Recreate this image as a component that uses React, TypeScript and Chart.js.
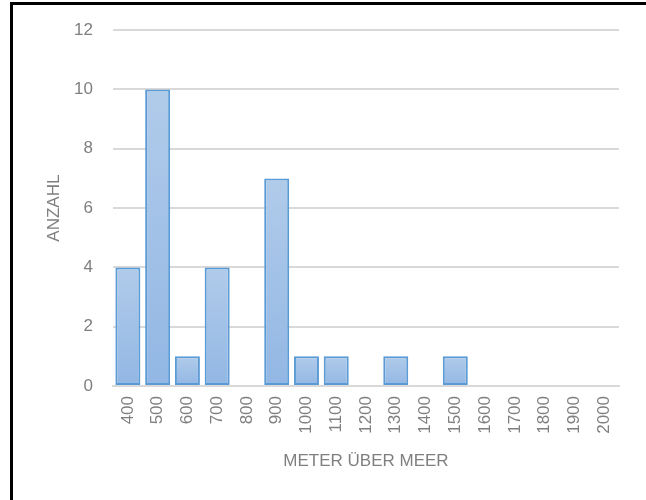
import React, { useEffect, useRef } from "react";
import { Chart, registerables } from "chart.js";

Chart.register(...registerables);

const categories = ["400", "500", "600", "700", "800", "900", "1000", "1100", "1200", "1300", "1400", "1500", "1600", "1700", "1800", "1900", "2000"];
const counts = [4, 10, 1, 4, 0, 7, 1, 1, 0, 1, 0, 1, 0, 0, 0, 0, 0];
const yTicks = [0, 2, 4, 6, 8, 10, 12];
const xTitle = "METER ÜBER MEER";
const yTitle = "ANZAHL";

const FONT = "'Liberation Sans', Arial, sans-serif";
const TEXT = "#7f7f7f";
const GRID = "#d9d9d9";

export default function App() {
  const ref = useRef<HTMLCanvasElement | null>(null);
  useEffect(() => {
    if (!ref.current) return;
    const chart = new Chart(ref.current, {
      type: "bar",
      data: {
        labels: categories,
        datasets: [
          {
            data: counts,
            backgroundColor: (ctx: any) => {
              const c = ctx.chart;
              const y = c.scales && c.scales.y;
              if (!y || !c.chartArea || ctx.raw == null) return "#a3c1e7";
              const top = y.getPixelForValue(ctx.raw);
              const bottom = y.getPixelForValue(0);
              if (!isFinite(top) || !isFinite(bottom) || top === bottom) return "#a3c1e7";
              const g = c.ctx.createLinearGradient(0, top, 0, bottom);
              g.addColorStop(0, "#b1cbea");
              g.addColorStop(1, "#92b7e4");
              return g;
            },
            borderColor: "#5b9bd5",
            borderWidth: 2,
            borderSkipped: false,
            categoryPercentage: 1,
            barPercentage: 0.84,
          },
        ],
      },
      options: {
        animation: false,
        responsive: false,
        maintainAspectRatio: false,
        layout: { padding: { left: 40, right: 27, top: 28, bottom: 24 } },
        plugins: { legend: { display: false }, tooltip: { enabled: false } },
        scales: {
          x: {
            grid: { display: false, drawTicks: false },
            border: { display: true, color: GRID, width: 2 },
            ticks: {
              color: TEXT,
              font: { family: FONT, size: 17 },
              minRotation: 90,
              maxRotation: 90,
              autoSkip: false,
              padding: 10,
            },
            title: {
              display: true,
              text: xTitle,
              color: TEXT,
              font: { family: FONT, size: 17 },
              padding: { top: 4, bottom: 4 },
            },
            afterFit: (s: any) => {
              s.height = 90;
            },
          },
          y: {
            min: 0,
            max: 12,
            afterBuildTicks: (s: any) => {
              s.ticks = yTicks.map((v) => ({ value: v }));
            },
            grid: { color: GRID, lineWidth: 2, drawTicks: false },
            border: { display: false },
            ticks: {
              color: TEXT,
              font: { family: FONT, size: 17 },
              padding: 20,
            },
            title: {
              display: true,
              text: yTitle,
              color: TEXT,
              font: { family: FONT, size: 17 },
              padding: { top: 4, bottom: 4 },
            },
            afterFit: (s: any) => {
              s.width = 73;
            },
          },
        },
      },
    });
    return () => chart.destroy();
  }, []);
  return (
    <div style={{ position: "fixed", left: 0, top: 0, width: 646, height: 500, background: "#fff", overflow: "hidden" }}>
      <canvas ref={ref} width={646} height={500} style={{ position: "absolute", left: 0, top: 0, width: 646, height: 500 }} />
      <div
        style={{
          position: "absolute",
          left: 10,
          top: 2,
          width: 640,
          height: 520,
          border: "3px solid #000",
          boxSizing: "border-box",
          pointerEvents: "none",
        }}
      />
    </div>
  );
}
